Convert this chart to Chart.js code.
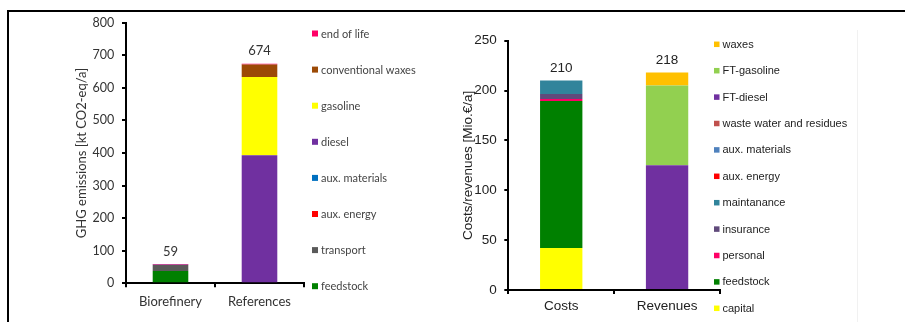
<!DOCTYPE html>
<html>
<head>
<meta charset="utf-8">
<script src="https://cdn.jsdelivr.net/npm/chart.js@4.4.1/dist/chart.umd.min.js"></script>
<style>
  html, body { margin: 0; padding: 0; background: #ffffff; }
  #wrap { position: relative; width: 905px; height: 322px; overflow: hidden; background: #ffffff; }
  canvas { position: absolute; top: 0; }
  #cvGhg { left: 0; }
  #cvCost { left: 450px; }
  .rule { position: absolute; background: #000; pointer-events: none; }
  .faint { position: absolute; background: #f1f1f1; pointer-events: none; }
</style>
</head>
<body>
<div id="wrap">
  <canvas id="cvGhg" width="450" height="322"></canvas>
  <canvas id="cvCost" width="455" height="322"></canvas>
  <div class="rule" style="left:7px; top:10px; width:898px; height:2px;"></div>
  <div class="rule" style="left:7px; top:10px; width:2px; height:312px;"></div>
  <div class="faint" style="left:857px; top:30px; width:1px; height:292px;"></div>
</div>
<script>
// ---------- GHG emissions (kt CO2-eq/a) ----------
const ghgCategories = ['Biorefinery', 'References'];
const ghgSeriesNames = ['feedstock', 'transport', 'aux. energy', 'aux. materials', 'diesel', 'gasoline', 'conventional waxes', 'end of life'];
const ghgFeedstock = [38, 0];
const ghgTransport = [18, 0];
const ghgAuxEnergy = [0.5, 0];
const ghgAuxMaterials = [0.5, 0];
const ghgDiesel = [0, 393];
const ghgGasoline = [0, 240];
const ghgConventionalWaxes = [0, 39];
const ghgEndOfLife = [2, 2];
const ghgTicks = [0, 100, 200, 300, 400, 500, 600, 700, 800];
const ghgColors = ['#008000', '#5a5a5a', '#ff0000', '#0070c0', '#7030a0', '#ffff00', '#9c4a06', '#ff0066'];

// ---------- Costs / revenues (Mio.€/a) ----------
const costCategories = ['Costs', 'Revenues'];
const costSeriesNames = ['capital', 'feedstock', 'personal', 'insurance', 'maintanance', 'aux. energy', 'aux. materials', 'waste water and residues', 'FT-diesel', 'FT-gasoline', 'waxes'];
const costCapital = [42, 0];
const costFeedstock = [147.5, 0];
const costPersonal = [2, 0];
const costInsurance = [5, 0];
const costMaintanance = [13.5, 0];
const costAuxEnergy = [0, 0];
const costAuxMaterials = [0, 0];
const costWasteWater = [0, 0];
const costFtDiesel = [0, 125];
const costFtGasoline = [0, 80];
const costWaxes = [0, 13];
const costTicks = [0, 50, 100, 150, 200, 250];
const costColors = ['#ffff00', '#008000', '#ff0066', '#604a7b', '#31849b', '#ff0000', '#4f81bd', '#c0504d', '#7030a0', '#92d050', '#ffc000'];

const ghgValues = [ghgFeedstock, ghgTransport, ghgAuxEnergy, ghgAuxMaterials, ghgDiesel, ghgGasoline, ghgConventionalWaxes, ghgEndOfLife];
const costValues = [costCapital, costFeedstock, costPersonal, costInsurance, costMaintanance, costAuxEnergy, costAuxMaterials, costWasteWater, costFtDiesel, costFtGasoline, costWaxes];

function buildDatasets(names, values, colors) {
  return names.map((n, i) => ({
    label: n,
    data: values[i],
    backgroundColor: colors[i],
    borderWidth: 0,
    categoryPercentage: 1,
    barPercentage: 0.4
  }));
}

// Stack totals written above each bar, legend drawn as a column on the right
const extrasPlugin = {
  id: 'extras',
  afterDatasetsDraw(chart, args, opts) {
    const ctx = chart.ctx;
    const xs = chart.scales.x, ys = chart.scales.y;
    ctx.save();
    // totals
    ctx.font = opts.totalFont;
    ctx.fillStyle = opts.totalColor;
    ctx.textAlign = 'center';
    ctx.textBaseline = 'middle';
    chart.data.labels.forEach((lab, i) => {
      let sum = 0;
      chart.data.datasets.forEach(ds => { sum += ds.data[i]; });
      const x = xs.getPixelForValue(i);
      const y = ys.getPixelForValue(sum) - opts.totalGap;
      ctx.fillText(String(Math.round(sum)), x, y);
    });
    // legend (reverse stacking order, top to bottom)
    const items = chart.data.datasets.slice().reverse();
    ctx.font = opts.legendFont;
    ctx.textAlign = 'left';
    items.forEach((ds, k) => {
      const cy = opts.legendTop + k * opts.legendStep;
      ctx.fillStyle = ds.backgroundColor;
      ctx.fillRect(opts.legendX, cy - opts.box / 2, opts.box, opts.box);
      ctx.fillStyle = opts.legendColor;
      ctx.fillText(ds.label, opts.textX, cy + 0.5);
    });
    ctx.restore();
  }
};

function axisOpts(o) {
  return {
    x: {
      stacked: true,
      afterFit: s => { s.height = o.xHeight; },
      border: { display: true, color: '#000', width: 2 },
      grid: { display: true, offset: true, drawOnChartArea: false, drawTicks: true, tickLength: 4, color: '#000', lineWidth: 2 },
      ticks: { padding: o.xPad, color: o.textColor, font: o.xFont, maxRotation: 0 }
    },
    y: {
      stacked: true,
      min: o.ticks[0],
      max: o.ticks[o.ticks.length - 1],
      afterFit: s => { s.width = o.yWidth; },
      afterBuildTicks: s => { s.ticks = o.ticks.map(v => ({ value: v })); },
      border: { display: true, color: '#000', width: 2 },
      grid: { display: true, drawOnChartArea: false, drawTicks: true, tickLength: 4, color: '#000', lineWidth: 2 },
      ticks: { padding: o.yPad, color: o.textColor, font: o.yFont },
      title: { display: true, text: o.title, color: o.textColor, font: o.titleFont, padding: { top: 4, bottom: 4 } }
    }
  };
}

new Chart(document.getElementById('cvGhg'), {
  type: 'bar',
  data: { labels: ghgCategories, datasets: buildDatasets(ghgSeriesNames, ghgValues, ghgColors) },
  options: {
    responsive: false,
    animation: false,
    devicePixelRatio: 1,
    layout: { padding: { left: 70, right: 146, top: 22.7, bottom: 0 } },
    plugins: {
      legend: { display: false },
      tooltip: { enabled: false },
      extras: {
        totalFont: '13px Lato', totalColor: '#333', totalGap: 12.5,
        legendFont: '11px Lato', legendColor: '#444',
        legendX: 312, textX: 321, box: 6, legendTop: 33.5, legendStep: 36.1
      }
    },
    scales: axisOpts({
      xHeight: 38.7, xPad: 6.6, yWidth: 56, yPad: 7.7, ticks: ghgTicks,
      textColor: '#333',
      xFont: { family: 'Lato', size: 13 },
      yFont: { family: 'Lato', size: 12.5 },
      titleFont: { family: 'Lato', size: 13 },
      title: 'GHG emissions [kt CO2-eq/a]'
    })
  },
  plugins: [extrasPlugin]
});

new Chart(document.getElementById('cvCost'), {
  type: 'bar',
  data: { labels: costCategories, datasets: buildDatasets(costSeriesNames, costValues, costColors) },
  options: {
    responsive: false,
    animation: false,
    devicePixelRatio: 1,
    layout: { padding: { left: 6.2, right: 185, top: 40.7, bottom: 0 } },
    plugins: {
      legend: { display: false },
      tooltip: { enabled: false },
      extras: {
        totalFont: '13.5px "Liberation Sans"', totalColor: '#222', totalGap: 12.5,
        legendFont: '11px "Liberation Sans"', legendColor: '#222',
        legendX: 264, textX: 272.5, box: 5.5, legendTop: 44.3, legendStep: 26.4
      }
    },
    scales: axisOpts({
      xHeight: 32, xPad: 4.6, yWidth: 52.1, yPad: 7.6, ticks: costTicks,
      textColor: '#222',
      xFont: { family: 'Liberation Sans', size: 13.5 },
      yFont: { family: 'Liberation Sans', size: 13.5 },
      titleFont: { family: 'Liberation Sans', size: 13.5 },
      title: 'Costs/revenues [Mio.€/a]'
    })
  },
  plugins: [extrasPlugin]
});
</script>
</body>
</html>
